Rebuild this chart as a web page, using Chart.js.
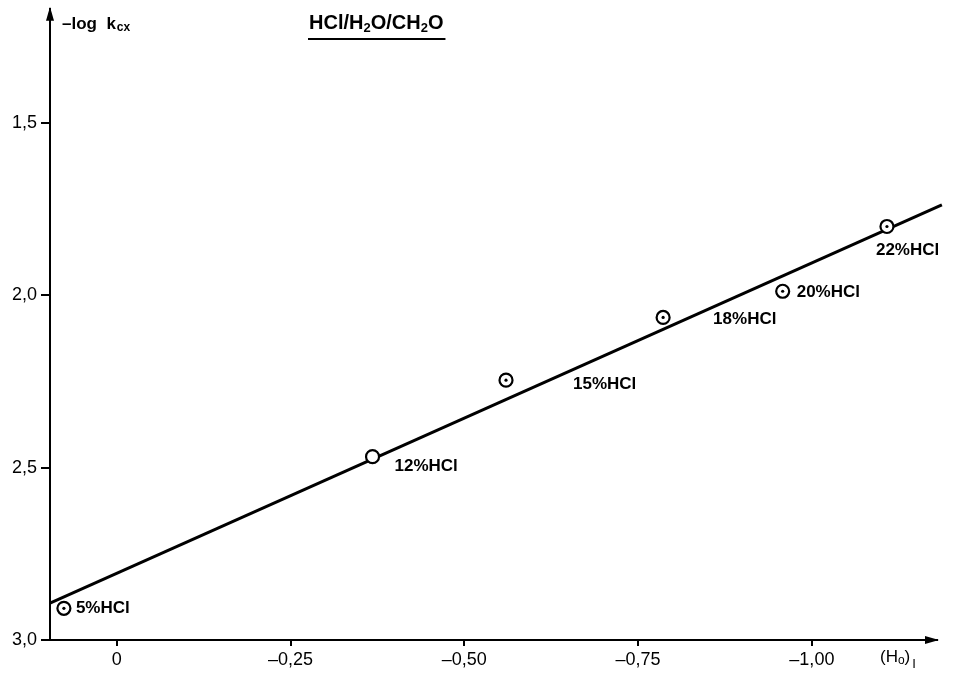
<!DOCTYPE html>
<html>
<head>
<meta charset="utf-8">
<script src="https://cdn.jsdelivr.net/npm/chart.js@4"></script>
<style>
  html, body { margin: 0; padding: 0; background: #fff; }
  #wrap { width: 953px; height: 673px; }
</style>
</head>
<body>
<div id="wrap"><canvas id="myChart" width="953" height="673"></canvas></div>
<script>
// data
const acidity = [0.076, -0.368, -0.56, -0.786, -0.958, -1.108];   // (H0)I
const logK = [2.908, 2.468, 2.246, 2.064, 1.988, 1.8];            // -log kcx
const pointLabels = ["5%HCl", "12%HCl", "15%HCl", "18%HCl", "20%HCl", "22%HCl"];
const hasDot = [true, false, true, true, true, true];

// fitted straight line, end points
const lineX = [0.096, -1.187];
const lineY = [2.893, 1.737];

const xTicks = [0, -0.25, -0.5, -0.75, -1.0];
const yTicks = [1.5, 2.0, 2.5, 3.0];

const font = "'Liberation Sans', Arial, sans-serif";

// label offsets from each point (px)
const labelOffset = [
  [12, 0], [22, 10], [67, 4], [50, 2], [14, 1], [-11, 24],
];

const ctx = document.getElementById("myChart").getContext("2d");

// arrows, axis titles and point labels
const decorations = {
  id: "decorations",
  afterDraw(chart) {
    const { ctx, chartArea } = chart;
    const x = chart.scales.x;
    const y = chart.scales.y;
    ctx.save();
    ctx.fillStyle = "#000";
    ctx.strokeStyle = "#000";

    // arrow heads
    ctx.beginPath();
    ctx.moveTo(chartArea.left, chartArea.top - 2);
    ctx.lineTo(chartArea.left - 4, chartArea.top + 12);
    ctx.lineTo(chartArea.left + 4, chartArea.top + 12);
    ctx.closePath();
    ctx.fill();
    ctx.beginPath();
    ctx.moveTo(chartArea.right + 2, chartArea.bottom);
    ctx.lineTo(chartArea.right - 12, chartArea.bottom - 4);
    ctx.lineTo(chartArea.right - 12, chartArea.bottom + 4);
    ctx.closePath();
    ctx.fill();

    // point labels
    ctx.font = "bold 17px " + font;
    ctx.textBaseline = "middle";
    ctx.textAlign = "left";
    pointLabels.forEach((txt, i) => {
      const px = x.getPixelForValue(acidity[i]);
      const py = y.getPixelForValue(logK[i]);
      ctx.fillText(txt, px + labelOffset[i][0], py + labelOffset[i][1]);
    });

    // y title: -log k_cx
    ctx.font = "bold 17px " + font;
    ctx.fillText("\u2013log  k", 62, 24);
    let w = ctx.measureText("\u2013log  k").width;
    ctx.font = "bold 12px " + font;
    ctx.fillText("cx", 62 + w + 1, 28);

    // x title: (H0)I
    ctx.font = "17px " + font;
    ctx.fillText("(H", 880, 657);
    w = ctx.measureText("(H").width;
    ctx.font = "12px " + font;
    ctx.fillText("o", 880 + w, 661);
    let w2 = ctx.measureText("o").width;
    ctx.font = "17px " + font;
    ctx.fillText(")", 880 + w + w2, 657);
    let w3 = ctx.measureText(")").width;
    ctx.font = "13px " + font;
    ctx.fillText("I", 880 + w + w2 + w3 + 2, 664);

    // system title with underline
    let tx = 309;
    const parts = [["HCl/H", 20], ["2", 13, 5], ["O/CH", 20], ["2", 13, 5], ["O", 20]];
    parts.forEach(p => {
      ctx.font = "bold " + p[1] + "px " + font;
      ctx.fillText(p[0], tx, 23 + (p[2] || 0));
      tx += ctx.measureText(p[0]).width;
    });
    ctx.lineWidth = 2;
    ctx.beginPath();
    ctx.moveTo(308, 39);
    ctx.lineTo(tx + 2, 39);
    ctx.stroke();
    ctx.restore();
  },
};

const config = {
  type: "scatter",
  data: {
    datasets: [
      {
        type: "line",
        order: 3,
        data: lineX.map((v, i) => ({ x: v, y: lineY[i] })),
        borderColor: "#000",
        borderWidth: 3,
        pointRadius: 0,
        clip: false,
      },
      {
        order: 2,
        data: acidity.map((v, i) => ({ x: v, y: logK[i] })),
        pointRadius: 6.5,
        pointBorderWidth: 2.2,
        pointBorderColor: "#000",
        pointBackgroundColor: "#fff",
      },
      {
        order: 1,
        data: acidity.map((v, i) => ({ x: v, y: logK[i] })),
        pointRadius: hasDot.map(d => (d ? 1.6 : 0)),
        pointBorderWidth: 0,
        pointBackgroundColor: "#000",
      },
    ],
  },
  options: {
    responsive: false,
    animation: false,
    layout: { padding: { top: 8, right: 16, left: 0, bottom: 0 } },
    plugins: {
      legend: { display: false },
      tooltip: { enabled: false },
    },
    scales: {
      x: {
        type: "linear",
        reverse: true,
        min: -1.18,
        max: 0.096,
        afterBuildTicks: s => { s.ticks = xTicks.map(v => ({ value: v })); },
        afterFit: s => { s.height = 33; s.paddingLeft = 0; s.paddingRight = 0; },
        border: { color: "#000", width: 2 },
        grid: { drawOnChartArea: false, drawTicks: true, tickLength: 6, color: "#000", lineWidth: 2 },
        ticks: {
          color: "#000",
          padding: 3,
          font: { family: font, size: 18 },
          callback: v => (v === 0 ? "0" : "\u2013" + Math.abs(v).toFixed(2).replace(".", ",")),
        },
      },
      y: {
        type: "linear",
        reverse: true,
        min: 1.168,
        max: 3.0,
        afterBuildTicks: s => { s.ticks = yTicks.map(v => ({ value: v })); },
        afterFit: s => { s.width = 50; s.paddingTop = 0; s.paddingBottom = 0; },
        border: { color: "#000", width: 2 },
        grid: { drawOnChartArea: false, drawTicks: true, tickLength: 9, color: "#000", lineWidth: 2 },
        ticks: {
          color: "#000",
          padding: 4,
          font: { family: font, size: 18 },
          callback: v => v.toFixed(1).replace(".", ","),
        },
      },
    },
  },
  plugins: [decorations],
};

const myChart = new Chart(ctx, config);
</script>
</body>
</html>
